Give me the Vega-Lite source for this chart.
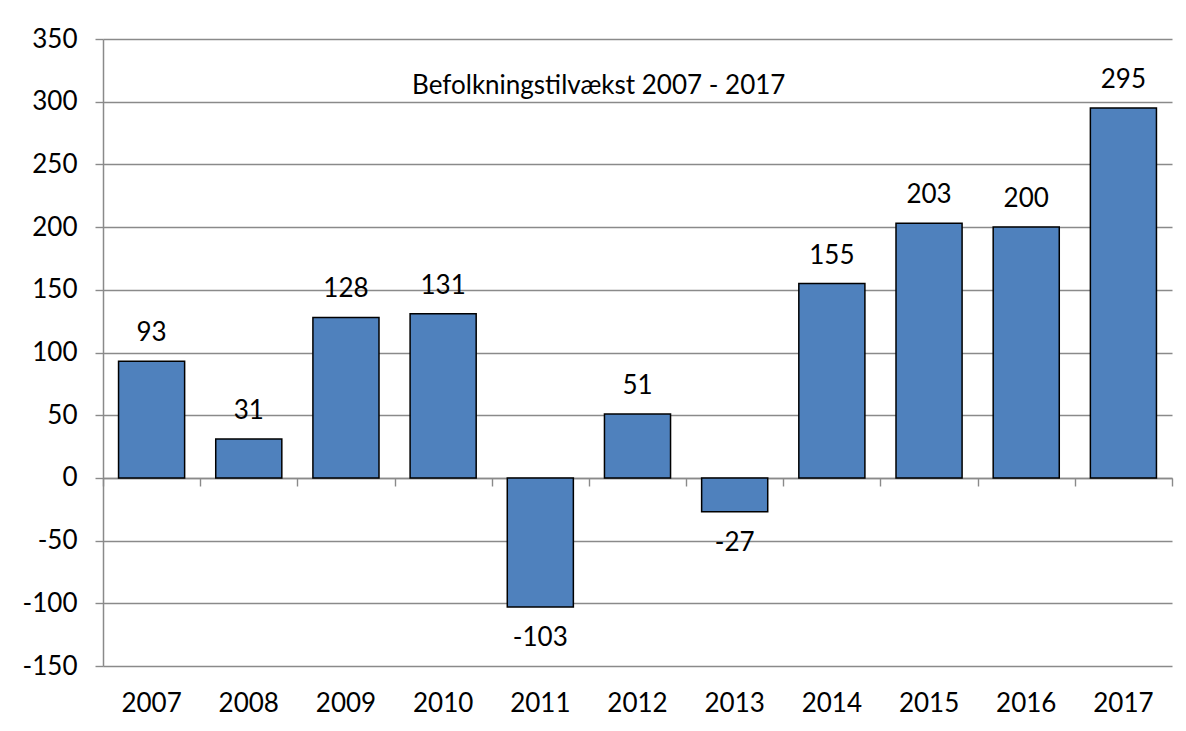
{
  "$schema": "https://vega.github.io/schema/vega-lite/v6.json",
  "width": 1069,
  "height": 627,
  "autosize": {"type": "none"},
  "padding": {"left": 103, "top": 39, "right": 14, "bottom": 65},
  "background": "white",
  "config": {"view": {"stroke": null}, "font": "Lato"},
  "title": {
    "text": "Befolkningstilvækst 2007 - 2017",
    "anchor": "start",
    "orient": "top",
    "offset": -94,
    "dx": 390,
    "baseline": "alphabetic",
    "fontSize": 26,
    "fontWeight": "normal",
    "color": "#000000",
    "font": "Lato"
  },
  "data": {
    "values": [
      {"year": "2007", "value": 93},
      {"year": "2008", "value": 31},
      {"year": "2009", "value": 128},
      {"year": "2010", "value": 131},
      {"year": "2011", "value": -103},
      {"year": "2012", "value": 51},
      {"year": "2013", "value": -27},
      {"year": "2014", "value": 155},
      {"year": "2015", "value": 203},
      {"year": "2016", "value": 200},
      {"year": "2017", "value": 295}
    ]
  },
  "resolve": {"axis": {"x": "independent"}},
  "layer": [
    {
      "mark": {"type": "bar", "fill": "#4F81BD", "stroke": "#000000", "strokeWidth": 1.5, "width": {"band": 0.68}},
      "encoding": {
        "x": {
          "field": "year",
          "type": "ordinal",
          "scale": {"paddingInner": 0, "paddingOuter": 0},
          "axis": {
            "orient": "bottom",
            "title": null,
            "domain": false,
            "ticks": false,
            "labelAngle": 0,
            "labelPadding": 24,
            "labelFontSize": 26,
            "labelColor": "#000000",
            "labelFont": "Lato"
          }
        },
        "y": {
          "field": "value",
          "type": "quantitative",
          "scale": {"domain": [-150, 350], "nice": false, "zero": false},
          "axis": {
            "title": null,
            "values": [-150, -100, -50, 0, 50, 100, 150, 200, 250, 300, 350],
            "labelExpr": "replace(datum.label, '−', '-')",
            "grid": true,
            "gridColor": "#8a8a8a",
            "gridWidth": 1.4,
            "domain": true,
            "domainColor": "#8a8a8a",
            "domainWidth": 1.5,
            "ticks": true,
            "tickColor": "#8a8a8a",
            "tickWidth": 1.4,
            "tickSize": 8,
            "labelPadding": 18,
            "labelFontSize": 26,
            "labelColor": "#000000",
            "labelFont": "Lato"
          }
        }
      }
    },
    {
      "transform": [{"filter": "datum.value >= 0"}],
      "mark": {"type": "text", "baseline": "alphabetic", "dy": -20, "fontSize": 26, "color": "#000000", "font": "Lato"},
      "encoding": {
        "x": {
          "field": "year",
          "type": "ordinal",
          "axis": {
            "orient": "bottom",
            "title": null,
            "offset": -188,
            "labels": false,
            "domain": true,
            "domainColor": "#8a8a8a",
            "domainWidth": 1.5,
            "ticks": true,
            "tickBand": "extent",
            "tickColor": "#8a8a8a",
            "tickWidth": 1.4,
            "tickSize": 8
          }
        },
        "y": {"field": "value", "type": "quantitative"},
        "text": {"field": "value", "type": "nominal"}
      }
    },
    {
      "transform": [{"filter": "datum.value < 0"}],
      "mark": {"type": "text", "baseline": "alphabetic", "dy": 39, "fontSize": 26, "color": "#000000", "font": "Lato"},
      "encoding": {
        "x": {"field": "year", "type": "ordinal", "axis": null},
        "y": {"field": "value", "type": "quantitative"},
        "text": {"field": "value", "type": "nominal"}
      }
    }
  ]
}
